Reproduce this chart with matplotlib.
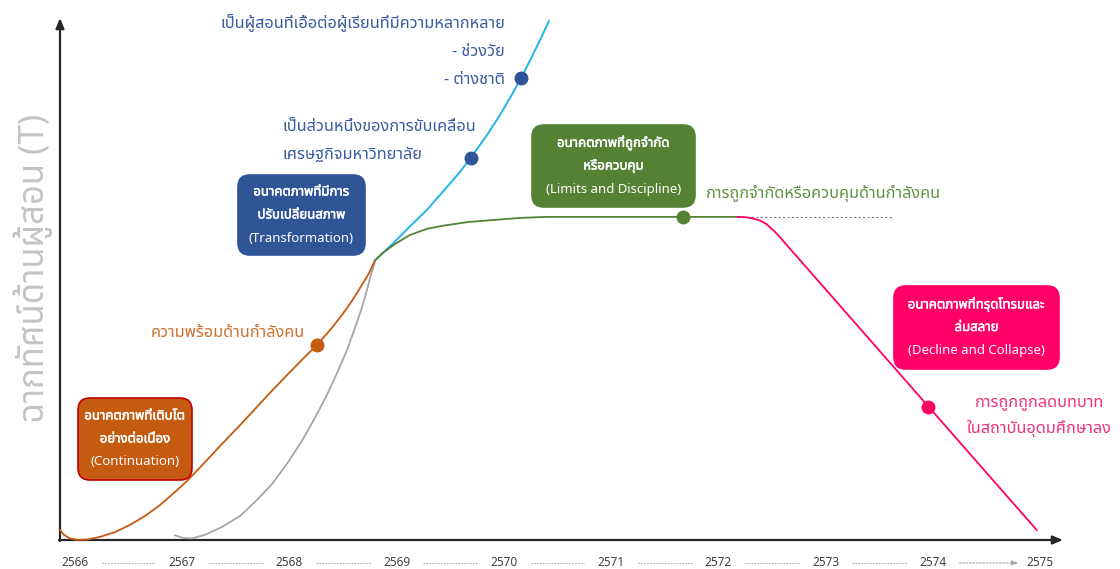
import matplotlib
matplotlib.use('Agg')
import matplotlib.pyplot as plt
from matplotlib import font_manager
from matplotlib.ft2font import FT2Font
from matplotlib.patches import FancyBboxPatch
import matplotlib.transforms as mtransforms
import matplotlib.patheffects as pe

# ---------------- fonts (need Thai glyphs) ----------------
def find_thai_fonts():
    names = []
    for fe in font_manager.fontManager.ttflist:
        try:
            cm = FT2Font(fe.fname).get_charmap()
        except Exception:
            continue
        if 0x0E01 in cm and 0x0E49 in cm and 0x0E32 in cm:
            if fe.name not in names:
                names.append(fe.name)
    return names

thai = find_thai_fonts()
pref = ['Noto Sans Thai', 'Noto Sans Thai UI', 'Loma', 'Garuda', 'Waree', 'Umpush',
        'Sarabun', 'Kinnari', 'Norasi', 'Noto Sans Thai Looped', 'Noto Serif Thai']
chosen = None
for p in pref:
    if p in thai:
        chosen = p
        break
if chosen is None and thai:
    chosen = thai[0]
families = ([chosen] if chosen else []) + ['DejaVu Sans']
plt.rcParams['font.family'] = families

# ---------------- data ----------------
years = [2566, 2567, 2568, 2569, 2570, 2571, 2572, 2573, 2574, 2575]

continuation_x = [2565.860, 2565.897, 2565.953, 2566.028, 2566.121, 2566.233, 2566.373, 2566.513,
                  2566.653, 2566.793, 2566.933, 2567.054, 2567.212, 2567.371, 2567.539, 2567.679,
                  2567.819, 2567.987, 2568.126, 2568.257, 2568.378, 2568.490, 2568.583, 2568.677,
                  2568.742, 2568.798]
continuation_y = [1.9, 1.0, 0.3, 0.0, 0.1, 0.6, 1.5, 2.9, 4.6, 6.7, 9.2, 11.5, 14.9, 18.4, 22.0,
                  25.1, 28.2, 31.8, 34.7, 37.4, 40.2, 43.1, 45.8, 48.9, 51.1, 53.6]

gray_x = [2566.933, 2567.007, 2567.091, 2567.212, 2567.371, 2567.539, 2567.679, 2567.837,
          2567.987, 2568.117, 2568.238, 2568.350, 2568.453, 2568.537, 2568.611, 2568.677,
          2568.723, 2568.760, 2568.798]
gray_y = [0.9, 0.4, 0.3, 1.0, 2.5, 4.6, 7.3, 10.7, 14.9, 19.0, 23.4, 27.8, 32.4, 36.4, 40.6,
          44.6, 47.9, 50.8, 53.3]

transform_x = [2568.80, 2568.97, 2569.12, 2569.28, 2569.43, 2569.59, 2569.69, 2569.84, 2569.96,
               2570.08, 2570.16, 2570.25, 2570.34, 2570.42]
transform_y = [53.6, 56.9, 60.0, 63.2, 66.7, 70.5, 73.2, 77.5, 81.3, 85.5, 88.5, 92.1, 95.9, 99.4]

limits_x = [2568.80, 2568.87, 2568.97, 2569.12, 2569.28, 2569.43, 2569.66, 2569.90, 2570.15,
            2570.40, 2570.71, 2572.18]
limits_y = [53.6, 55.0, 56.5, 58.4, 59.6, 60.2, 60.9, 61.3, 61.7, 61.9, 61.9, 61.9]

plateau_x = [2572.18, 2573.62]
plateau_y = [61.9, 61.9]

decline_x = [2572.18, 2572.25, 2572.31, 2572.39, 2572.45, 2572.52, 2572.58, 2572.63, 2574.97]
decline_y = [61.9, 61.85, 61.65, 61.2, 60.5, 59.2, 57.9, 56.7, 1.9]

continuation_pt = (2568.26, 37.4)
transform_pts_x = [2569.69, 2570.16]
transform_pts_y = [73.2, 88.5]
limits_pt = (2571.67, 61.9)
decline_pt = (2573.96, 25.5)

# ---------------- colors ----------------
C_ORANGE = '#C55A11'
C_GRAY = '#A6A6A6'
C_BLUE = '#22B4EA'
C_DBLUE = '#2F5597'
C_GREEN = '#548235'
C_PINK = '#FF0066'

W, H = 1120, 569
fig = plt.figure(figsize=(W / 100, H / 100), dpi=100)
ax = fig.add_axes([0, 0, 1, 1])
ax.set_xlim(2565.3005, 2575.7463)
ax.set_ylim(-5.556, 103.448)
ax.axis('off')

px = mtransforms.Affine2D().scale(1 / W, -1 / H).translate(0, 1) + fig.transFigure

# axes with arrows
x0 = 2565.86
ax.annotate('', xy=(x0, 100), xytext=(x0, -0.2),
            arrowprops=dict(arrowstyle='-|>,head_length=0.6,head_width=0.25', color='#262626', lw=1.6,
                            shrinkA=0, shrinkB=0))
ax.annotate('', xy=(2575.215, 0), xytext=(x0 - 0.01, 0),
            arrowprops=dict(arrowstyle='-|>,head_length=0.6,head_width=0.25', color='#262626', lw=1.6,
                            shrinkA=0, shrinkB=0))

# year labels with dotted separators
ylab = -4.4
for i, yr in enumerate(years):
    ax.text(yr, ylab, str(yr), ha='center', va='center', fontsize=8.5, color='#404040')
    if i < len(years) - 1:
        if i == len(years) - 2:
            ax.annotate('', xy=(years[i + 1] - 0.2, ylab), xytext=(yr + 0.25, ylab),
                        arrowprops=dict(arrowstyle='-|>,head_length=0.4,head_width=0.15',
                                        color='#A6A6A6', lw=0.8, linestyle=(0, (1.5, 1.5)),
                                        shrinkA=0, shrinkB=0))
        else:
            ax.plot([yr + 0.25, years[i + 1] - 0.25], [ylab, ylab], color='#A6A6A6', lw=0.7,
                    linestyle=(0, (1.5, 1.5)))

# curves
ax.plot(gray_x, gray_y, color=C_GRAY, lw=1.3, zorder=3, solid_joinstyle='round')
ax.plot(continuation_x, continuation_y, color=C_ORANGE, lw=1.3, zorder=3, solid_joinstyle='round')
ax.plot(transform_x, transform_y, color=C_BLUE, lw=1.4, zorder=3, solid_joinstyle='round')
ax.plot(limits_x, limits_y, color=C_GREEN, lw=1.3, zorder=3, solid_joinstyle='round')
ax.plot(plateau_x, plateau_y, color='#7F7F7F', lw=0.8, linestyle=(0, (2, 2)), zorder=2)
ax.plot(decline_x, decline_y, color=C_PINK, lw=1.3, zorder=3, solid_joinstyle='round')

# markers
ax.plot([continuation_pt[0]], [continuation_pt[1]], 'o', color=C_ORANGE, ms=9, zorder=4)
ax.plot(transform_pts_x, transform_pts_y, 'o', color=C_DBLUE, ms=9, zorder=4)
ax.plot([limits_pt[0]], [limits_pt[1]], 'o', color=C_GREEN, ms=9, zorder=4)
ax.plot([decline_pt[0]], [decline_pt[1]], 'o', color=C_PINK, ms=9, zorder=4)

# y label
ax.text(33, 268, 'ฉากทัศน์ด้านผู้สอน (T)', transform=px, rotation=90, ha='center', va='center',
        fontsize=25, color='#C4C4C4')

# scenario boxes
bold_fx = [pe.withStroke(linewidth=0.35, foreground='white')]

def box(x, y, w, h, fc, lines, ec=None, fs=9.5):
    p = FancyBboxPatch((x, y), w, h, boxstyle='round,pad=0,rounding_size=12', transform=px,
                       facecolor=fc, edgecolor=ec if ec else fc, lw=1.2, zorder=5)
    ax.add_patch(p)
    cx = x + w / 2
    n = len(lines)
    step = 23
    start = y + h / 2 - step * (n - 1) / 2
    for k, s in enumerate(lines):
        t = ax.text(cx, start + k * step, s, transform=px, ha='center', va='center', color='white',
                    fontsize=fs, zorder=6)
        if k < n - 1:
            t.set_path_effects(bold_fx)

box(78, 398, 114, 82, C_ORANGE, ['อนาคตภาพที่เติบโต', 'อย่างต่อเนื่อง', '(Continuation)'], ec='#C00000')
box(238, 175, 127, 80, C_DBLUE, ['อนาคตภาพที่มีการ', 'ปรับเปลี่ยนสภาพ', '(Transformation)'])
box(532, 125, 163, 82, C_GREEN, ['อนาคตภาพที่ถูกจำกัด', 'หรือควบคุม', '(Limits and Discipline)'])
box(894, 286, 165, 83, C_PINK, ['อนาคตภาพที่ทรุดโทรมและ', 'ล่มสลาย', '(Decline and Collapse)'])

# annotation labels
FS = 11.7
C_LBLUE = '#3A5BA0'
ax.text(505, 22, 'เป็นผู้สอนที่เอื้อต่อผู้เรียนที่มีความหลากหลาย', transform=px, ha='right', va='center',
        fontsize=FS, color=C_LBLUE)
ax.text(505, 52, '- ช่วงวัย', transform=px, ha='right', va='center', fontsize=FS, color=C_LBLUE)
ax.text(505, 80, '- ต่างชาติ', transform=px, ha='right', va='center', fontsize=FS, color=C_LBLUE)
ax.text(283, 127, 'เป็นส่วนหนึ่งของการขับเคลื่อน', transform=px, ha='left', va='center', fontsize=FS,
        color=C_LBLUE)
ax.text(283, 155, 'เศรษฐกิจมหาวิทยาลัย', transform=px, ha='left', va='center', fontsize=FS,
        color=C_LBLUE)
ax.text(305, 333, 'ความพร้อมด้านกำลังคน', transform=px, ha='right', va='center', fontsize=FS,
        color='#D0702E')
ax.text(706, 193, 'การถูกจำกัดหรือควบคุมด้านกำลังคน', transform=px, ha='left', va='center', fontsize=FS,
        color='#609041')
ax.text(1039, 402, 'การถูกถูกลดบทบาท', transform=px, ha='center', va='center', fontsize=FS,
        color='#F0307A')
ax.text(1039, 429, 'ในสถาบันอุดมศึกษาลง', transform=px, ha='center', va='center', fontsize=FS,
        color='#F0307A')

fig.savefig('out.png', dpi=100)
